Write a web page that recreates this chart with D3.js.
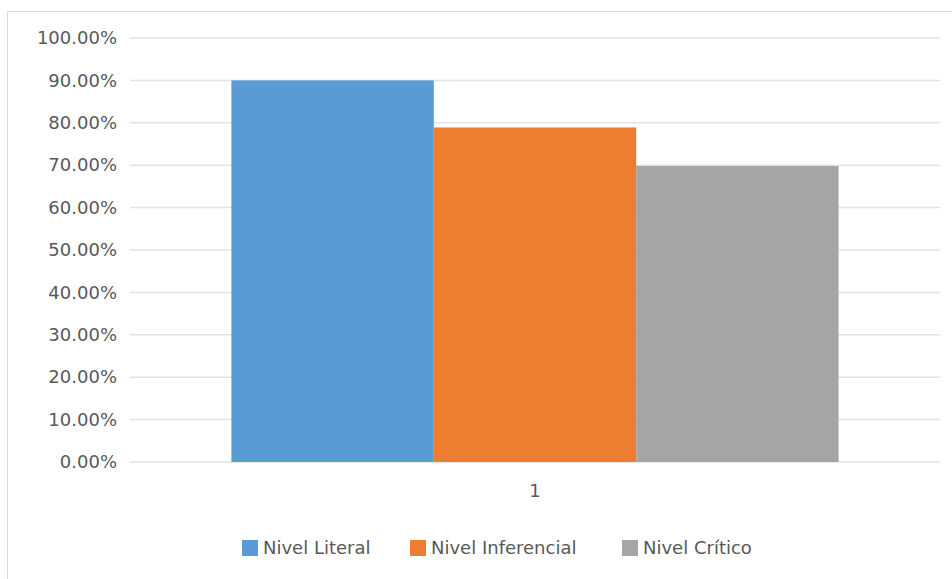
<!DOCTYPE html>
<html>
<head>
<meta charset="utf-8">
<script src="https://cdn.jsdelivr.net/npm/d3@7"></script>
<style>
  body { margin: 0; background: #fff; }
  text { font-family: "DejaVu Sans", sans-serif; fill: #595959; }
</style>
</head>
<body>
<div id="chart"></div>
<script>
const categories = ["1"];
const series = ["Nivel Literal", "Nivel Inferencial", "Nivel Crítico"];
const values = [0.90, 0.789, 0.698];
const colors = ["#5b9bd5", "#ed7d31", "#a5a5a5"];
const yTicks = [0, 0.1, 0.2, 0.3, 0.4, 0.5, 0.6, 0.7, 0.8, 0.9, 1.0];

const width = 952, height = 579;
const margin = { top: 38, right: 12, bottom: 117, left: 130 };

const svg = d3.select("#chart")
  .append("svg")
  .attr("width", width)
  .attr("height", height);

// chart border
svg.append("rect")
  .attr("x", 7.5)
  .attr("y", 11.5)
  .attr("width", width + 10)
  .attr("height", height + 10)
  .attr("fill", "#fff")
  .attr("stroke", "#d9d9d9")
  .attr("stroke-width", 1);

const y = d3.scaleLinear()
  .domain([0, 1])
  .range([height - margin.bottom, margin.top]);

const x = d3.scaleBand()
  .domain(categories)
  .range([margin.left, width - margin.right])
  .paddingInner(0)
  .paddingOuter(0.167);

const xs = d3.scaleBand()
  .domain(series)
  .range([0, x.bandwidth()]);

// gridlines
svg.append("g")
  .selectAll("line")
  .data(yTicks)
  .enter()
  .append("line")
  .attr("x1", margin.left)
  .attr("x2", width - margin.right)
  .attr("y1", d => y(d))
  .attr("y2", d => y(d))
  .style("stroke", "#e3e3e3")
  .style("stroke-width", "1.5px");

// y axis labels
const yAxis = d3.axisLeft(y)
  .tickValues(yTicks)
  .tickFormat(d => (d * 100).toFixed(2) + "%")
  .tickSize(0)
  .tickPadding(13);

svg.append("g")
  .attr("transform", `translate(${margin.left},0)`)
  .call(yAxis)
  .call(g => g.select(".domain").remove())
  .selectAll("text")
  .style("font-size", "18px")
  .style("fill", "#595959")
  .style("font-family", "DejaVu Sans");

// bars
svg.append("g")
  .selectAll("rect")
  .data(series)
  .enter()
  .append("rect")
  .attr("x", d => x(categories[0]) + xs(d))
  .attr("y", (d, i) => y(values[i]))
  .attr("width", xs.bandwidth())
  .attr("height", (d, i) => y(0) - y(values[i]))
  .attr("fill", (d, i) => colors[i]);

// x axis label
const xAxis = d3.axisBottom(x).tickSize(0).tickPadding(22);
svg.append("g")
  .attr("transform", `translate(0,${y(0)})`)
  .call(xAxis)
  .call(g => g.select(".domain").remove())
  .selectAll("text")
  .style("font-size", "18px")
  .style("fill", "#595959")
  .style("font-family", "DejaVu Sans");

// legend
const legendX = [242, 410, 622];
const legend = svg.append("g")
  .selectAll("g")
  .data(series)
  .enter()
  .append("g")
  .attr("transform", (d, i) => `translate(${legendX[i]},540)`);

legend.append("rect")
  .attr("width", 16)
  .attr("height", 16)
  .attr("fill", (d, i) => colors[i]);

legend.append("text")
  .attr("x", 21)
  .attr("y", 8)
  .attr("dy", "0.36em")
  .style("font-size", "18px")
  .text(d => d);
</script>
</body>
</html>
